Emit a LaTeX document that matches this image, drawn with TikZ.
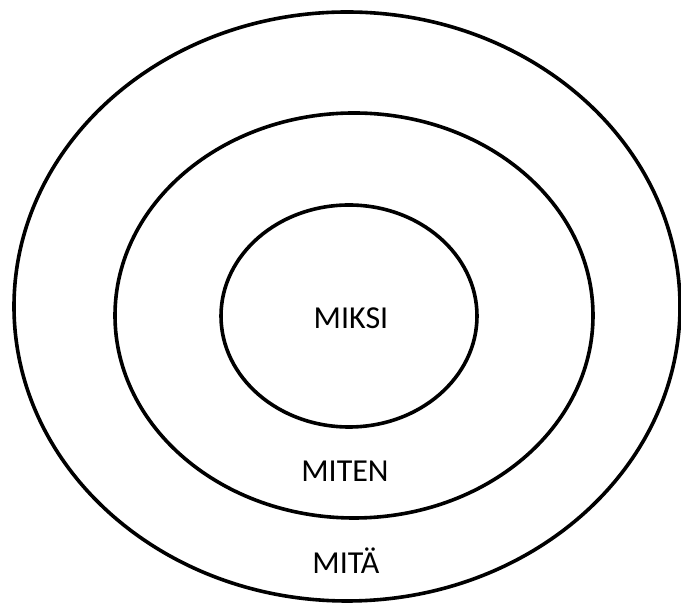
\documentclass[tikz,border=0pt]{standalone}
\usepackage{fontspec}
\setmainfont{Carlito}
\begin{document}
\begin{tikzpicture}[x=1pt,y=1pt,
  ring/.style={draw=black,line width=3.6pt},
  lbl/.style={font=\fontsize{32}{38}\selectfont,inner sep=0pt}]
\useasboundingbox (0,0) rectangle (681,607);
\draw[ring] (347,300.5) ellipse [x radius=333, y radius=294.5];
\draw[ring] (354,291.5) ellipse [x radius=239, y radius=202.5];
\draw[ring] (349,291) ellipse [x radius=128, y radius=111];
\node[lbl] (miksi) at (351,289) {MIKSI};
\node[lbl] (miten) at (345,136) {MITEN};
\node[lbl] (mita) at (346,46) {MITÄ};
\end{tikzpicture}
\end{document}
